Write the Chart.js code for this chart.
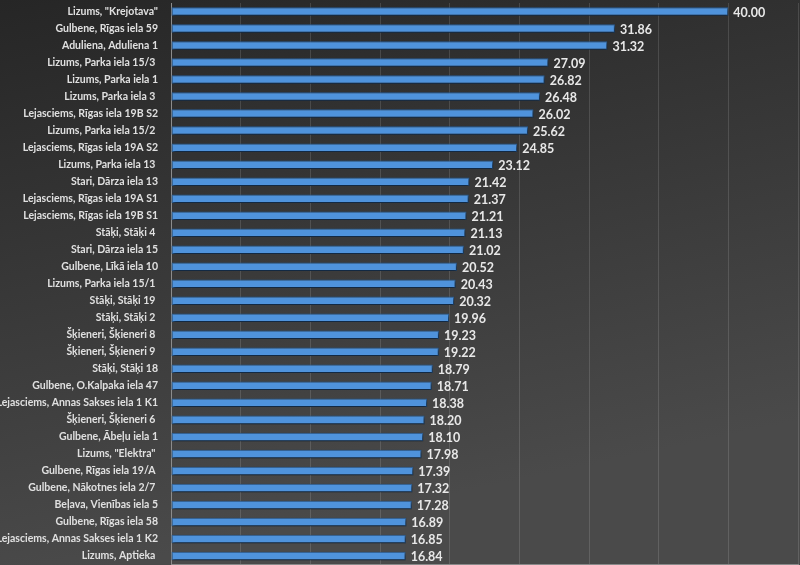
<!DOCTYPE html>
<html>
<head>
<meta charset="utf-8">
<script src="https://cdn.jsdelivr.net/npm/chart.js@4"></script>
<style>
html,body{margin:0;padding:0;background:#2f2f2f;}
#wrap{width:800px;height:565px;position:relative;}
</style>
</head>
<body>
<div id="wrap"><canvas id="c" width="800" height="565"></canvas></div>
<script>
const categories = [
  'Lizums, "Krejotava"',
  'Gulbene, Rīgas iela 59',
  'Aduliena, Aduliena 1',
  'Lizums, Parka iela 15/3 ',
  'Lizums, Parka iela 1',
  'Lizums, Parka iela 3 ',
  'Lejasciems, Rīgas iela 19B S2',
  'Lizums, Parka iela 15/2 ',
  'Lejasciems, Rīgas iela 19A S2',
  'Lizums, Parka iela 13 ',
  'Stari, Dārza iela 13',
  'Lejasciems, Rīgas iela 19A S1',
  'Lejasciems, Rīgas iela 19B S1',
  'Stāķi, Stāķi 4 ',
  'Stari, Dārza iela 15',
  'Gulbene, Līkā iela 10',
  'Lizums, Parka iela 15/1 ',
  'Stāķi, Stāķi 19 ',
  'Stāķi, Stāķi 2 ',
  'Šķieneri, Šķieneri 8 ',
  'Šķieneri, Šķieneri 9 ',
  'Stāķi, Stāķi 18',
  'Gulbene, O.Kalpaka iela 47',
  'Lejasciems, Annas Sakses iela 1 K1',
  'Šķieneri, Šķieneri 6 ',
  'Gulbene, Ābeļu iela 1',
  'Lizums, "Elektra" ',
  'Gulbene, Rīgas iela 19/A ',
  'Gulbene, Nākotnes iela 2/7 ',
  'Beļava, Vienības iela 5',
  'Gulbene, Rīgas iela 58',
  'Lejasciems, Annas Sakses iela 1 K2',
  'Lizums, Aptieka '
];
const values = [40.00, 31.86, 31.32, 27.09, 26.82, 26.48, 26.02, 25.62, 24.85, 23.12,
  21.42, 21.37, 21.21, 21.13, 21.02, 20.52, 20.43, 20.32, 19.96, 19.23,
  19.22, 18.79, 18.71, 18.38, 18.20, 18.10, 17.98, 17.39, 17.32, 17.28,
  16.89, 16.85, 16.84];
const xMin = 0, xMax = 45, xStep = 5;

const bgPlugin = {
  id: 'bg',
  beforeDraw(chart) {
    const ctx = chart.ctx;
    const g = ctx.createLinearGradient(0, 0, 120, chart.height);
    g.addColorStop(0, '#262626');
    g.addColorStop(1, '#4a4a4a');
    ctx.save();
    ctx.fillStyle = g;
    ctx.fillRect(0, 0, chart.width, chart.height);
    ctx.restore();
  }
};
const shadowPlugin = {
  id: 'barShadow',
  beforeDatasetDraw(chart) {
    const ctx = chart.ctx;
    ctx.save();
    ctx.shadowColor = 'rgba(0,0,0,0.65)';
    ctx.shadowOffsetY = 2;
    ctx.shadowOffsetX = 1;
    ctx.shadowBlur = 3;
  },
  afterDatasetDraw(chart) {
    chart.ctx.restore();
  }
};
const valuePlugin = {
  id: 'values',
  afterDatasetsDraw(chart) {
    const ctx = chart.ctx;
    const meta = chart.getDatasetMeta(0);
    ctx.save();
    ctx.font = 'bold 12.5px Lato, "Open Sans", sans-serif';
    ctx.fillStyle = '#e8e8e8';
    ctx.textAlign = 'left';
    ctx.textBaseline = 'middle';
    meta.data.forEach((bar, i) => {
      ctx.fillText(values[i].toFixed(2), bar.x + 5, bar.y + 1);
    });
    ctx.restore();
  }
};

new Chart(document.getElementById('c'), {
  type: 'bar',
  data: {
    labels: categories,
    datasets: [{
      data: values,
      backgroundColor: (c) => {
        const ch = c.chart;
        const el = c.element;
        if (!el || !ch.chartArea || !Number.isFinite(el.y)) return '#4f93dc';
        const y = el.y, h = 9;
        const g = ch.ctx.createLinearGradient(0, y - h / 2, 0, y + h / 2);
        g.addColorStop(0, '#6aaaea');
        g.addColorStop(0.35, '#5399e0');
        g.addColorStop(1, '#3f80c8');
        return g;
      },
      borderColor: '#2b5f98',
      borderWidth: 1,
      borderSkipped: false,
      barPercentage: 0.5,
      categoryPercentage: 1
    }]
  },
  options: {
    indexAxis: 'y',
    responsive: false,
    animation: false,
    devicePixelRatio: 1,
    layout: { padding: { top: 3, bottom: 0.5, right: 2, left: 0 } },
    plugins: { legend: { display: false }, tooltip: { enabled: false } },
    scales: {
      x: {
        min: xMin, max: xMax,
        ticks: { display: false, stepSize: xStep },
        grid: { color: 'rgba(255,255,255,0.13)', drawTicks: false, lineWidth: 1 },
        border: { display: true, color: 'rgba(200,200,200,0.5)' },
        afterFit(scale) { scale.height = 0; scale.paddingLeft = 0; scale.paddingRight = 0; }
      },
      y: {
        afterFit(scale) { scale.width = 171; scale.paddingTop = 0; scale.paddingBottom = 0; },
        ticks: {
          color: '#e0e0e0',
          padding: 13,
          autoSkip: false,
          font: { family: 'Lato, "Open Sans", sans-serif', size: 10.5, weight: 'bold' }
        },
        grid: { display: false, drawTicks: false },
        border: { display: true, color: '#8c8c8c', width: 1 }
      }
    }
  },
  plugins: [bgPlugin, shadowPlugin, valuePlugin]
});
</script>
</body>
</html>
